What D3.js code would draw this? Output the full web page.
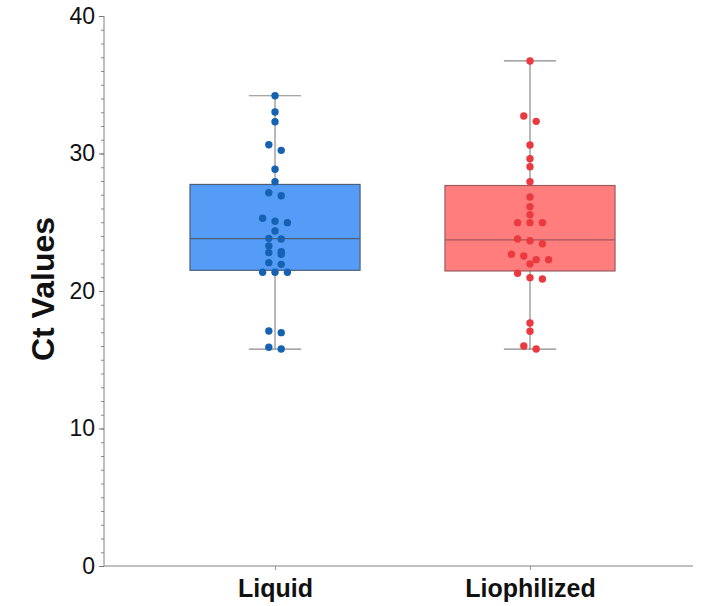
<!DOCTYPE html>
<html>
<head>
<meta charset="utf-8">
<script src="https://cdn.jsdelivr.net/npm/d3@7"></script>
<style>
  body { margin: 0; background: #fff; }
  text { font-family: "Liberation Sans", Arial, Helvetica, sans-serif; }
</style>
</head>
<body>
<svg id="chart" width="711" height="606"></svg>
<script>
// Ct values per sample type
const categories = ["Liquid", "Liophilized"];
const liquidCt = [
  34.20, 33.02, 32.31, 30.64, 30.23, 28.85, 27.95, 27.15, 26.93, 25.29,
  25.07, 24.97, 24.36, 23.83, 23.78, 23.27, 22.86, 22.79, 22.67, 22.06,
  21.94, 21.36, 21.36, 21.36, 17.09, 16.97, 15.91, 15.78
];
const liophilizedCt = [
  36.73, 32.73, 32.34, 30.62, 29.62, 29.04, 27.95, 26.84, 26.13, 25.55,
  24.97, 24.97, 24.97, 23.78, 23.66, 23.44, 22.67, 22.55, 22.28, 22.28,
  21.96, 21.29, 20.97, 20.87, 17.67, 17.07, 16.00, 15.78
];
const yTicks = [0, 10, 20, 30, 40];
const yLabel = "Ct Values";

const groups = [
  { name: categories[0], values: liquidCt, fill: "#559cf6", dot: "#1561b2", edge: "#4d5f78" },
  { name: categories[1], values: liophilizedCt, fill: "#ff7d7d", dot: "#eb3a3f", edge: "#9a5a5e" }
];

const svg = d3.select("#chart");
const plotLeft = 104, plotRight = 693, plotTop = 16, plotBottom = 566;

const y = d3.scaleLinear().domain([0, 40]).range([plotBottom, plotTop]);
const x = d3.scalePoint().domain(categories).range([plotLeft, plotRight]).padding(0.655).align(0.512);
const step = x.step();
const boxW = step * 0.667;
const capW = step * 0.205;
const dotR = 3.7;

// Quartiles with the (n+1)p rule
function quantile(sorted, p) {
  const n = sorted.length;
  const h = (n + 1) * p;
  const lo = Math.max(1, Math.min(n, Math.floor(h)));
  const hi = Math.min(n, lo + 1);
  const f = Math.max(0, h - lo);
  return sorted[lo - 1] + f * (sorted[hi - 1] - sorted[lo - 1]);
}

// Row-based dot plot: dots closer than about one diameter share a row,
// and each row is spread symmetrically around the category centre.
function rowOffsets(values, spacing, rowHeight) {
  const order = values.map((v, i) => i).sort((a, b) => y(values[a]) - y(values[b]));
  const rows = [];
  order.forEach(i => {
    const py = y(values[i]);
    const row = rows[rows.length - 1];
    if (row && py - y(values[row[0]]) <= rowHeight) row.push(i);
    else rows.push([i]);
  });
  const out = new Array(values.length);
  rows.forEach(row => {
    const n = row.length;
    row.forEach((idx, j) => { out[idx] = (j - (n - 1) / 2) * spacing; });
  });
  return out;
}

// Y axis with minor ticks every unit
const yMinor = svg.append("g").attr("transform", `translate(${plotLeft},0)`);
yMinor.call(d3.axisLeft(y).tickValues(d3.range(0, 41, 1)).tickSize(3).tickFormat(""));
yMinor.selectAll(".tick line").attr("stroke", "#8a8a8a");
const yMajor = svg.append("g").attr("transform", `translate(${plotLeft},0)`);
yMajor.call(d3.axisLeft(y).tickValues(yTicks).tickSize(5).tickPadding(4));
yMajor.selectAll(".tick line").attr("stroke", "#777");
yMajor.selectAll(".tick text").attr("font-size", 23).attr("fill", "#111");
svg.selectAll(".domain").remove();
svg.append("line").attr("x1", plotLeft).attr("x2", plotLeft).attr("y1", plotTop).attr("y2", plotBottom)
  .attr("stroke", "#808080").attr("stroke-width", 1);

// X axis
svg.append("line").attr("x1", plotLeft).attr("x2", plotRight).attr("y1", plotBottom).attr("y2", plotBottom)
  .attr("stroke", "#808080").attr("stroke-width", 1);
const xAxisG = svg.append("g").attr("transform", `translate(0,${plotBottom})`);
xAxisG.call(d3.axisBottom(x).tickSize(4).tickPadding(9));
xAxisG.select(".domain").remove();
xAxisG.selectAll(".tick line").attr("stroke", "#999");
xAxisG.selectAll(".tick text").attr("font-size", 25).attr("font-weight", "bold").attr("fill", "#111");

// Y title
svg.append("text")
  .attr("transform", "translate(54,289) rotate(-90)")
  .attr("text-anchor", "middle")
  .attr("font-size", 32).attr("font-weight", "bold").attr("fill", "#111")
  .text(yLabel);

// Boxes, whiskers, dots
groups.forEach(g => {
  const cx = x(g.name);
  const s = g.values.slice().sort(d3.ascending);
  const q1 = quantile(s, 0.25), med = quantile(s, 0.5), q3 = quantile(s, 0.75);
  const lo = s[0], hi = s[s.length - 1];
  const gg = svg.append("g");

  gg.append("line").attr("x1", cx).attr("x2", cx).attr("y1", y(hi)).attr("y2", y(lo))
    .attr("stroke", "#8a8a8a").attr("stroke-width", 1.2);
  [hi, lo].forEach(v => {
    gg.append("line").attr("x1", cx - capW / 2).attr("x2", cx + capW / 2)
      .attr("y1", y(v)).attr("y2", y(v)).attr("stroke", "#8a8a8a").attr("stroke-width", 1.2);
  });
  gg.append("rect").attr("x", cx - boxW / 2).attr("width", boxW)
    .attr("y", y(q3)).attr("height", y(q1) - y(q3))
    .attr("fill", g.fill).attr("stroke", g.edge).attr("stroke-width", 1.2);
  gg.append("line").attr("x1", cx - boxW / 2).attr("x2", cx + boxW / 2)
    .attr("y1", y(med)).attr("y2", y(med)).attr("stroke", g.edge).attr("stroke-width", 1.3);

  const offs = rowOffsets(g.values, 12.4, 6);
  gg.selectAll("circle").data(g.values).join("circle")
    .attr("cx", (d, i) => cx + offs[i])
    .attr("cy", d => y(d))
    .attr("r", dotR)
    .attr("fill", g.dot);
});
</script>
</body>
</html>
